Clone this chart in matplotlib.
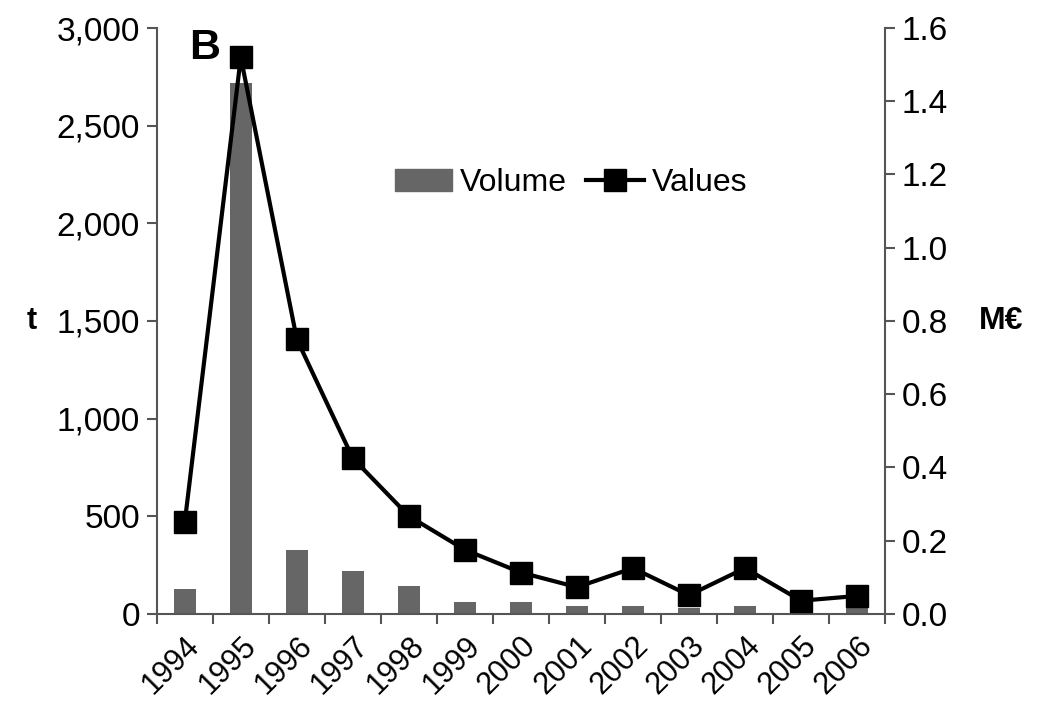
import numpy as np
import matplotlib.pyplot as plt
from matplotlib.lines import Line2D
from matplotlib.patches import Patch

plt.rcParams['font.family'] = ['Liberation Sans', 'DejaVu Sans']

years = ['1994', '1995', '1996', '1997', '1998', '1999', '2000',
         '2001', '2002', '2003', '2004', '2005', '2006']
volume_t = [126, 2720, 328, 222, 145, 63, 63, 41, 42, 28, 42, 15, 30]
values_meur = [0.25, 1.52, 0.75, 0.425, 0.267, 0.175, 0.113,
               0.073, 0.125, 0.051, 0.125, 0.036, 0.049]

axc = '#555555'
fig = plt.figure(figsize=(10.45, 7.18), dpi=100)
ax = fig.add_axes([0.150, 0.145, 0.697, 0.816])
x = np.arange(len(years))

ax.bar(x, volume_t, width=0.4, color='#666666', zorder=2)
ax.set_xlim(-0.5, len(years) - 0.5)
ax.set_ylim(0, 3000)
ax.set_yticks(np.arange(0, 3001, 500))
ax.set_yticklabels(['{:,}'.format(v) for v in range(0, 3001, 500)])
ax.set_xticks(x)
ax.set_xticklabels(years, rotation=45, ha='right', rotation_mode='anchor')
ax.set_xticks(np.arange(-0.5, len(years)), minor=True)
ax.tick_params(axis='x', which='major', length=0, pad=12, labelsize=22)
ax.tick_params(axis='x', which='minor', length=7, width=1.5, color=axc)
ax.tick_params(axis='y', length=7, width=1.5, color=axc, labelsize=24, pad=5)
for s in ['top', 'right']:
    ax.spines[s].set_visible(False)
for s in ['left', 'bottom']:
    ax.spines[s].set_color(axc)
    ax.spines[s].set_linewidth(1.5)
ax.set_ylabel('t', fontsize=22, fontweight='bold', rotation=0, labelpad=18,
              va='center')

ax2 = ax.twinx()
ax2.plot(x, values_meur, color='black', lw=3, marker='s', ms=16, zorder=3)
ax2.set_ylim(0, 1.6)
ax2.set_yticks(np.arange(0, 1.61, 0.2))
ax2.set_yticklabels(['{:.1f}'.format(v) for v in np.arange(0, 1.61, 0.2)])
ax2.tick_params(axis='y', length=7, width=1.5, color=axc, labelsize=24, pad=5)
for s in ['top', 'left', 'bottom']:
    ax2.spines[s].set_visible(False)
ax2.spines['right'].set_color(axc)
ax2.spines['right'].set_linewidth(1.5)
ax2.set_ylabel('M€', fontsize=23, fontweight='bold', rotation=0, labelpad=38,
               va='center')

ax.text(0.045, 1.0, 'B', transform=ax.transAxes, fontsize=31,
        fontweight='bold', va='top', ha='left')

handles = [Patch(color='#666666'),
           Line2D([], [], color='black', lw=3, marker='s', ms=16)]
ax2.legend(handles, ['Volume', 'Values'], loc='upper left',
           bbox_to_anchor=(0.287, 0.81), ncol=2, frameon=False, fontsize=23,
           handlelength=1.8, handletextpad=0.25, columnspacing=0.6)

fig.savefig('out.png', dpi=100)
